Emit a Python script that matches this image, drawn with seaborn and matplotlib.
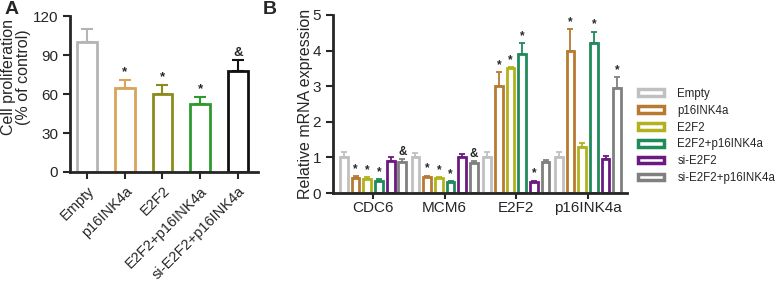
import matplotlib
matplotlib.use("Agg")
import matplotlib.pyplot as plt
from matplotlib.patches import Patch
import pandas as pd
import seaborn as sns

# Panel A data
groups_a = ["Empty", "p16INK4a", "E2F2", "E2F2+p16INK4a", "si-E2F2+p16INK4a"]
prolif = [100, 65, 60, 52, 78]
prolif_err = [10, 6, 7, 6, 8]
marks_a = ["", "*", "*", "*", "&"]
colors_a = ["#b4b4b4", "#d9a55a", "#8c8c1e", "#2e9a2e", "#111111"]

# Panel B data
genes = ["CDC6", "MCM6", "E2F2", "p16INK4a"]
conditions = ["Empty", "p16INK4a", "E2F2", "E2F2+p16INK4a", "si-E2F2", "si-E2F2+p16INK4a"]
expr_empty = [1.0, 1.0, 1.0, 1.0]
expr_p16 = [0.43, 0.45, 3.0, 4.0]
expr_e2f2 = [0.40, 0.41, 3.5, 1.3]
expr_e2f2_p16 = [0.35, 0.30, 3.9, 4.2]
expr_si = [0.90, 1.02, 0.32, 0.95]
expr_si_p16 = [0.87, 0.84, 0.88, 2.96]
err_empty = [0.16, 0.12, 0.14, 0.15]
err_p16 = [0.04, 0.04, 0.4, 0.6]
err_e2f2 = [0.04, 0.03, 0.04, 0.1]
err_e2f2_p16 = [0.03, 0.03, 0.3, 0.33]
err_si = [0.12, 0.08, 0.03, 0.08]
err_si_p16 = [0.08, 0.07, 0.06, 0.3]
marks_b = [
    ["", "", "", ""],
    ["*", "*", "*", "*"],
    ["*", "*", "*", ""],
    ["*", "*", "*", "*"],
    ["", "", "*", ""],
    ["&", "&", "", "*"],
]
colors_b = ["#c0c0c0", "#b87a30", "#b2b21e", "#1f8a5a", "#6a1a80", "#808080"]

sns.set_style("ticks")
plt.rcParams["font.family"] = ["Liberation Sans", "DejaVu Sans"]

fig = plt.figure(figsize=(7.78, 2.85), dpi=100)
ax_a = fig.add_axes([0.090, 0.3965, 0.2416, 0.547])
ax_b = fig.add_axes([0.428, 0.3228, 0.378, 0.6246])

# ---- Panel A
df_a = pd.DataFrame({"group": groups_a, "value": prolif})
sns.barplot(data=df_a, x="group", y="value", hue="group", palette=colors_a,
            fill=False, linewidth=2, width=0.52, legend=False, ax=ax_a)
bars_a = list(ax_a.containers)
for i, cont in enumerate(bars_a):
    bar = cont.patches[0]
    xc = bar.get_x() + bar.get_width() / 2
    ax_a.errorbar(xc, prolif[i], yerr=[[0], [prolif_err[i]]], fmt="none",
                  ecolor=colors_a[i], elinewidth=1.5, capsize=4, capthick=1.5)
    if marks_a[i]:
        ax_a.text(xc, prolif[i] + prolif_err[i] + 1, marks_a[i], ha="center",
                  va="bottom", fontsize=9.5, fontweight="bold")
ax_a.set_ylim(0, 120)
ax_a.set_yticks([0, 30, 60, 90, 120])
ax_a.set_xlim(-0.45, 4.53)
ax_a.set_xlabel("")
ax_a.set_ylabel("Cell proliferation\n(% of control)", fontsize=11.5, linespacing=1.0)
ax_a.yaxis.set_label_coords(-0.21, 0.61)
ax_a.tick_params(axis="x", labelrotation=45, labelsize=10.5, width=1.5, length=5)
ax_a.tick_params(axis="y", labelsize=11, width=1.5, length=5)
for lab in ax_a.get_xticklabels():
    lab.set_ha("right")
    lab.set_rotation_mode("anchor")
sns.despine(ax=ax_a)
for s in ["left", "bottom"]:
    ax_a.spines[s].set_linewidth(2)

# ---- Panel B
expr = [expr_empty, expr_p16, expr_e2f2, expr_e2f2_p16, expr_si, expr_si_p16]
errs = [err_empty, err_p16, err_e2f2, err_e2f2_p16, err_si, err_si_p16]
rows = []
for cond, vals in zip(conditions, expr):
    for g, v in zip(genes, vals):
        rows.append({"gene": g, "condition": cond, "value": v})
df_b = pd.DataFrame(rows)
sns.barplot(data=df_b, x="gene", y="value", hue="condition", hue_order=conditions,
            palette=colors_b, fill=False, linewidth=2, width=0.98, gap=0.34,
            legend=False, ax=ax_b)
bars_b = list(ax_b.containers)
for ci, cont in enumerate(bars_b):
    for gi, bar in enumerate(cont.patches):
        xc = bar.get_x() + bar.get_width() / 2
        v = expr[ci][gi]
        e = errs[ci][gi]
        ax_b.errorbar(xc, v, yerr=[[0], [e]], fmt="none", ecolor=colors_b[ci],
                      elinewidth=1.3, capsize=2, capthick=1.3)
        if marks_b[ci][gi]:
            ax_b.text(xc, v + e + 0.03, marks_b[ci][gi], ha="center", va="bottom",
                      fontsize=8.5, fontweight="bold")
ax_b.set_ylim(0, 5)
ax_b.set_yticks([0, 1, 2, 3, 4, 5])
ax_b.set_xlim(-0.56, 3.545)
ax_b.set_xlabel("")
ax_b.set_ylabel("Relative mRNA expression", fontsize=11.5)
ax_b.yaxis.set_label_coords(-0.068, 0.5)
ax_b.tick_params(axis="x", labelsize=11, width=1.5, length=4, pad=2)
ax_b.tick_params(axis="y", labelsize=11, width=1.5, length=5)
sns.despine(ax=ax_b)
for s in ["left", "bottom"]:
    ax_b.spines[s].set_linewidth(2)

handles = [Patch(facecolor="white", edgecolor=c, linewidth=2.5, label=l)
           for c, l in zip(colors_b, conditions)]
fig.legend(handles=handles, loc="center left", bbox_to_anchor=(0.807, 0.523),
           frameon=False, fontsize=8.3, handlelength=2.2, handleheight=0.5,
           handletextpad=1.2, labelspacing=0.42)

fig.text(0.006, 0.995, "A", fontsize=14, fontweight="bold", va="top")
fig.text(0.338, 0.995, "B", fontsize=14, fontweight="bold", va="top")

fig.savefig("out.png", dpi=100)
